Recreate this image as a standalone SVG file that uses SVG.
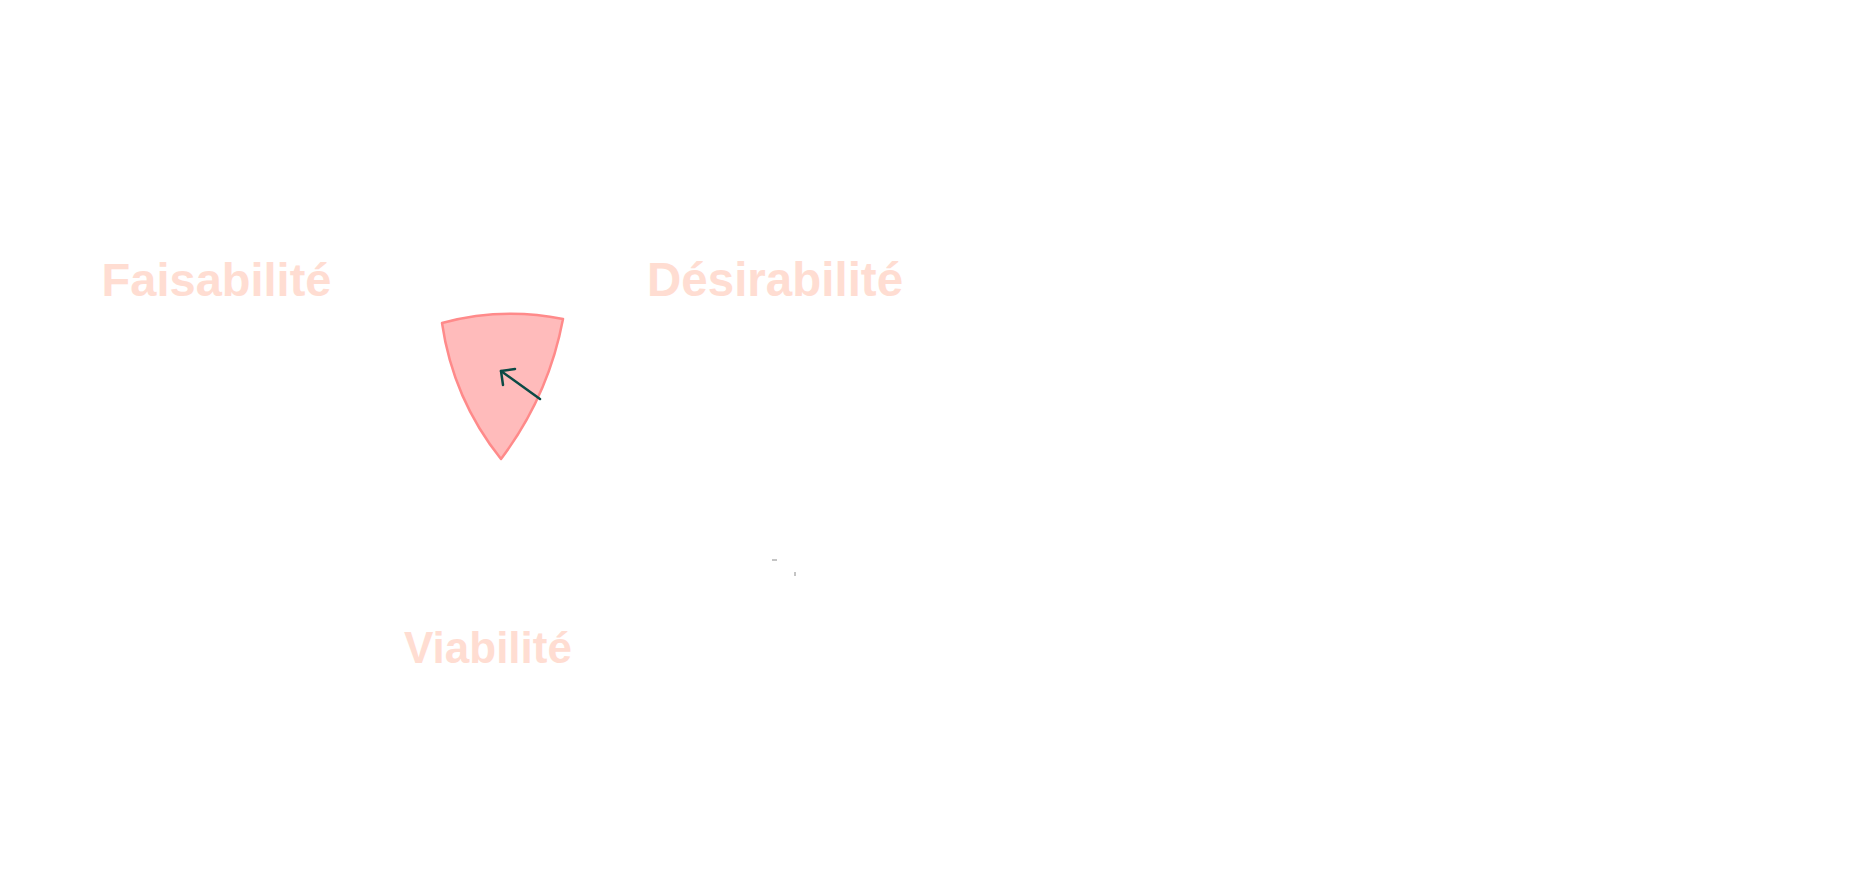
<svg xmlns="http://www.w3.org/2000/svg" width="1854" height="879" viewBox="0 0 1854 879">
  <style>
    .label { font-family: "Liberation Sans", Arial, Helvetica, sans-serif; font-weight: bold; fill: #FFDDD2; }
    .region { fill: #FFBBBB; stroke: #FF8A8A; stroke-width: 2.5; stroke-linejoin: round; }
    .arrow { fill: none; stroke: #0B4A45; stroke-width: 2.5; stroke-linecap: round; stroke-linejoin: round; }
    .tick { stroke: #8A8A8A; stroke-width: 1; }
  </style>
  <rect width="1854" height="879" fill="#FFFFFF"/>
  <g id="faisabilite">
    <text class="label" x="101.6" y="296" font-size="47">Faisabilité</text>
  </g>
  <g id="desirabilite">
    <text class="label" x="647" y="296" font-size="47.5">Désirabilité</text>
  </g>
  <g id="viabilite">
    <text class="label" x="404" y="663" font-size="44">Viabilité</text>
  </g>
  <g id="intersection">
    <path class="region" d="M442,323 Q502,307 563,319 Q548.5,396 501,459 Q453,399 442,323 Z"/>
  </g>
  <g id="connectors">
    <path class="arrow" d="M540,399 L501,371"/>
    <path class="arrow" d="M515,369 L501,371 L503,385"/>
  </g>
  <g id="marks">
    <line class="tick" x1="772" y1="560" x2="777" y2="560"/>
    <line class="tick" x1="795" y1="572" x2="795" y2="576"/>
  </g>
</svg>
